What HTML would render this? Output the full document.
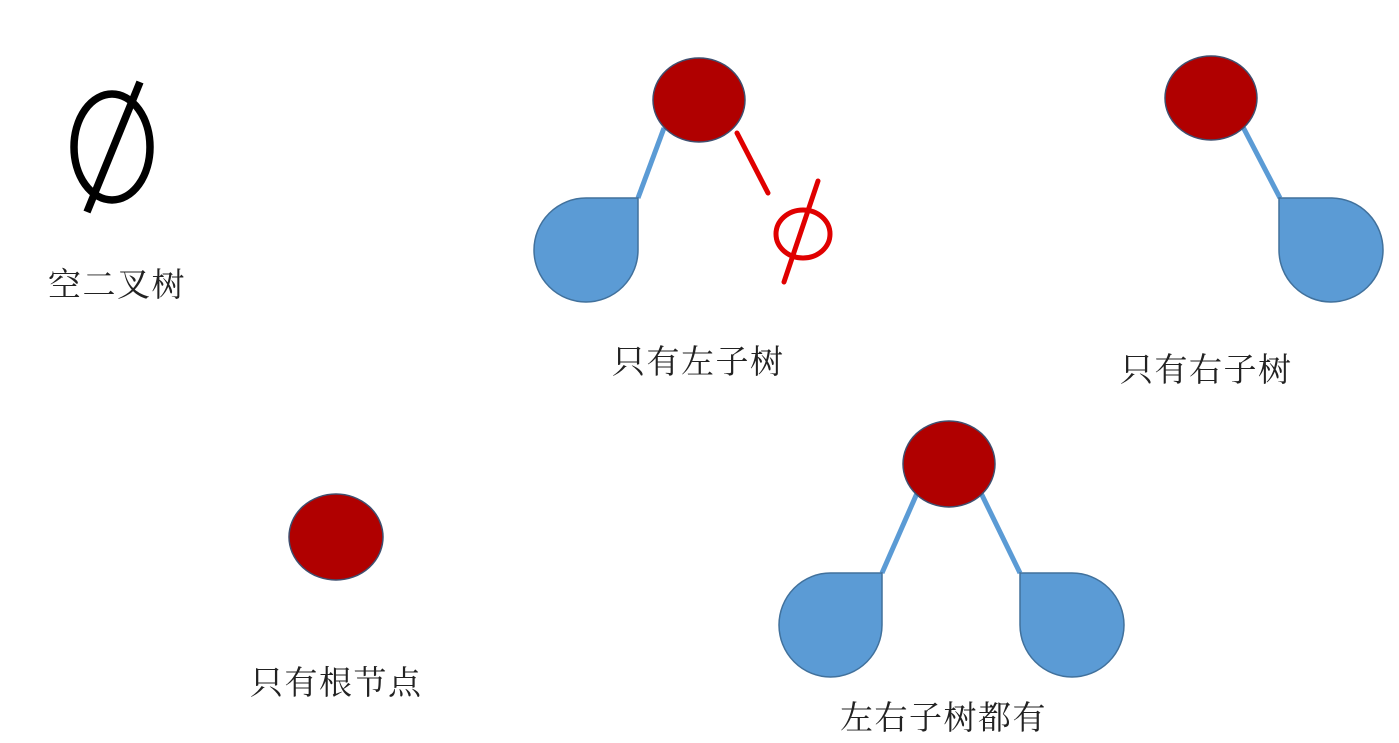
<!DOCTYPE html>
<html><head><meta charset="utf-8"><style>
html,body{margin:0;padding:0;background:#fff;}
svg{display:block}
text{font-family:"Liberation Serif","Noto Serif CJK SC",serif;font-size:33px;letter-spacing:1.5px;fill:#222;}
</style></head><body>
<svg width="1399" height="743" viewBox="0 0 1399 743" xmlns="http://www.w3.org/2000/svg">
<g stroke="#5b9bd5" stroke-width="5">
<line x1="664" y1="128" x2="638" y2="198"/>
<line x1="1243" y1="127" x2="1280" y2="198"/>
<line x1="918" y1="491" x2="882" y2="573"/>
<line x1="980" y1="491" x2="1020" y2="573"/>
</g>
<g fill="#5b9bd5" stroke="#41719c" stroke-width="1.5">
<path d="M638,198 L638,250 A52,52 0 1 1 586,198 Z"/>
<path d="M1279,198 L1332,198 A52,52 0 1 1 1279,250 Z"/>
<path d="M882,573 L882,625 A51.5,52 0 1 1 830.5,573 Z"/>
<path d="M1020,573 L1072,573 A52,52 0 1 1 1020,625 Z"/>
</g>
<g fill="#b00000" stroke="#3f4f6f" stroke-width="1.5">
<ellipse cx="699" cy="100" rx="46" ry="42"/>
<ellipse cx="1211" cy="98" rx="46" ry="42"/>
<ellipse cx="336" cy="537" rx="47" ry="43"/>
<ellipse cx="949" cy="464" rx="46" ry="43"/>
</g>
<g stroke="#e00000" stroke-width="5" fill="none" stroke-linecap="round">
<line x1="737" y1="133" x2="768" y2="193"/>
<ellipse cx="803" cy="234" rx="27" ry="24"/>
<line x1="818" y1="181" x2="784" y2="282"/>
</g>
<g stroke="#000" stroke-width="7.5" fill="none">
<ellipse cx="112" cy="147" rx="38" ry="53"/>
<line x1="140" y1="82" x2="87" y2="212"/>
</g>
<text x="48" y="296">空二叉树</text>
<text x="612" y="373">只有左子树</text>
<text x="1120" y="381">只有右子树</text>
<text x="250" y="694">只有根节点</text>
<text x="840" y="729">左右子树都有</text>
</svg>
</body></html>
